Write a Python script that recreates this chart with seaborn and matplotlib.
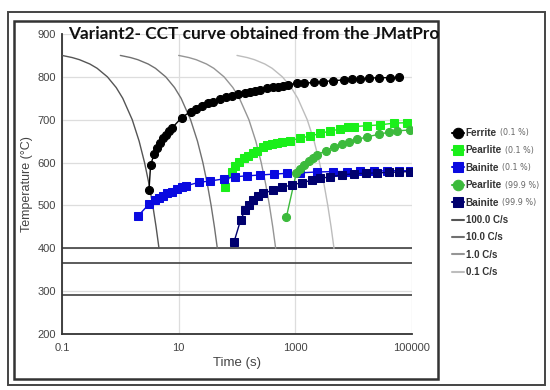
import matplotlib
matplotlib.use("Agg")
import matplotlib.pyplot as plt
import matplotlib.ticker as mticker
from matplotlib.patches import Rectangle
import pandas as pd
import seaborn as sns

# Transformation curves (time in s, temperature in C)
ferrite_t = [3.1, 3.3, 3.8, 4.3, 4.8, 5.3, 6.0, 6.8, 7.6, 11.3, 16, 20, 25, 32, 39, 51, 65, 82,
             105, 138, 170, 200, 250, 330, 420, 510, 620, 760, 1070, 1400, 2050, 3000, 4500,
             6800, 9400, 13000, 18000, 27000, 42000, 59000]
ferrite_T = [535, 594, 620, 633, 645, 657, 665, 673, 680, 705, 719, 726, 732, 738, 742, 748, 752, 755,
             759, 762, 765, 767, 769, 773, 776, 777, 779, 782, 785, 785, 787, 789, 791,
             793, 794, 795, 797, 798, 798, 799]

pearlite01_t = [62, 81, 93, 110, 132, 157, 186, 224, 277, 330, 400, 480, 590, 815, 1200, 1800,
                2700, 4000, 5900, 8100, 10000, 17000, 28700, 48600, 82000]
pearlite01_T = [542, 577, 592, 602, 610, 616, 622, 628, 636, 640, 643, 645, 647, 651, 657, 662,
                668, 674, 678, 682, 684, 686, 688, 692, 693]

bainite01_t = [2.0, 3.1, 3.9, 4.65, 5.4, 6.4, 7.6, 9.3, 11.3, 13.4, 22.6, 34.5, 60, 93, 147, 250,
               425, 716, 1200, 2330, 4500, 7750, 13000, 22000, 37000, 60000, 92000]
bainite01_T = [475, 503, 513, 518, 523, 528, 532, 538, 542, 546, 554, 557, 562, 567, 569, 571,
               573, 575, 576, 578, 579, 579, 580, 580, 581, 581, 581]

pearlite999_t = [700, 1035, 1200, 1420, 1690, 2000, 2340, 3390, 4520, 6300, 8300, 11500, 17000,
                 27000, 40000, 55600, 91000]
pearlite999_T = [472, 575, 584, 594, 604, 611, 618, 628, 636, 643, 648, 654, 660,
                 666, 671, 674, 676]

bainite999_t = [89, 116, 138, 163, 190, 233, 284, 412, 590, 875, 1290, 1930, 2690, 3970, 6300,
                10000, 16000, 25000, 40000, 60000, 92000]
bainite999_T = [415, 467, 489, 501, 513, 522, 528, 536, 542, 548, 553, 559, 563, 567, 571,
                574, 575, 576, 577, 578, 579]

# Cooling curves (same temperatures, times per rate)
cool_T = [850, 845, 840, 830, 820, 800, 775, 750, 700, 650, 600, 550, 500, 450, 400]
cool_100_t = [0.10, 0.15, 0.20, 0.30, 0.40, 0.60, 0.85, 1.1, 1.6, 2.1, 2.6, 3.1, 3.6, 4.1, 4.6]
cool_10_t = [1.0, 1.5, 2.0, 3.0, 4.0, 6.0, 8.5, 11, 16, 21, 26, 31, 36, 41, 46]
cool_1_t = [10, 15, 20, 30, 40, 60, 85, 110, 160, 210, 260, 310, 360, 410, 460]
cool_01_t = [100, 150, 200, 300, 400, 600, 850, 1100, 1600, 2100, 2600, 3100, 3600, 4100, 4600]

# Horizontal temperature lines
hlines_T = [400, 366, 292]

phase_names = ["Ferrite", "Pearlite", "Bainite", "Pearlite", "Bainite"]
phase_pcts = ["(0.1 %)", "(0.1 %)", "(0.1 %)", "(99.9 %)", "(99.9 %)"]
rate_names = ["100.0 C/s", "10.0 C/s", "1.0 C/s", "0.1 C/s"]

x_major = [0.1, 10, 1000, 100000]
x_major_labels = ["0.1", "10", "1000", "100000"]

sns.set_style("white")
plt.rcParams["font.family"] = ["Liberation Sans", "DejaVu Sans"]

W, H = 550, 390
fig = plt.figure(figsize=(W / 100, H / 100), dpi=100)
ax = fig.add_axes([62 / W, 1 - 334 / H, 350 / W, 300 / H])

# frames around the panel
fig.add_artist(Rectangle((8 / W, 1 - 385 / H), 537 / W, 373 / H, transform=fig.transFigure,
                         fill=False, lw=1.4, ec="#444444"))
fig.add_artist(Rectangle((14 / W, 1 - 379 / H), 424 / W, 358 / H, transform=fig.transFigure,
                         fill=False, lw=1.8, ec="#333333"))

for yv in hlines_T:
    ax.axhline(yv, color="#404040", lw=1.2, zorder=2)

cool_colors = ["#555555", "#707070", "#959595", "#bdbdbd"]
for t, name, c in zip([cool_100_t, cool_10_t, cool_1_t, cool_01_t], rate_names, cool_colors):
    sns.lineplot(x=t, y=cool_T, color=c, lw=1.0, ax=ax, label=name, estimator=None, sort=False,
                 zorder=3)

series = [
    (ferrite_t, ferrite_T, "#000000", "o"),
    (pearlite01_t, pearlite01_T, "#1aef1a", "s"),
    (bainite01_t, bainite01_T, "#0a0ae0", "s"),
    (pearlite999_t, pearlite999_T, "#3cba3c", "o"),
    (bainite999_t, bainite999_T, "#00006e", "s"),
]
for (t, T, c, m), name in zip(series, phase_names):
    df = pd.DataFrame({"t": t, "T": T})
    sns.lineplot(data=df, x="t", y="T", color=c, marker=m, markersize=5.8 if m == "o" else 5.3,
                 markeredgecolor=c, lw=1.0, ax=ax, label=name, estimator=None, zorder=4)

ax.set_xscale("log")
ax.set_xlim(0.1, 100000)
ax.set_ylim(200, 900)
ax.xaxis.set_major_locator(mticker.FixedLocator(x_major))
ax.xaxis.set_major_formatter(mticker.FixedFormatter(x_major_labels))
ax.xaxis.set_minor_locator(mticker.LogLocator(base=10, subs=range(1, 10), numticks=20))
ax.xaxis.set_minor_formatter(mticker.NullFormatter())
ax.yaxis.set_major_locator(mticker.MultipleLocator(100))
ax.yaxis.set_minor_locator(mticker.MultipleLocator(50))

ax.grid(True, which="major", color="#dddddd", lw=0.9, zorder=0)
ax.set_axisbelow(True)
for s in ["top", "right"]:
    ax.spines[s].set_visible(False)
for s in ["left", "bottom"]:
    ax.spines[s].set_color("#333333")
    ax.spines[s].set_linewidth(1.3)
ax.tick_params(which="major", direction="inout", length=5, width=1.0, color="#333333",
               labelsize=8, labelcolor="#444444", pad=2)
ax.tick_params(which="minor", direction="inout", length=4, width=1.0, color="#333333")
ax.tick_params(axis="x", which="major", pad=4)

ax.set_xlabel("Time (s)", fontsize=9.5, color="#444444", labelpad=3)
ax.set_ylabel("Temperature (\u00b0C)", fontsize=9, color="#444444", labelpad=3)

# legend at right, phases first then cooling rates
handles, labels = ax.get_legend_handles_labels()
if ax.get_legend():
    ax.get_legend().remove()
order = list(range(4, 9)) + list(range(0, 4))
leg = fig.legend([handles[i] for i in order], [labels[i] for i in order],
                 loc="upper left", bbox_to_anchor=(447 / W, 1 - 123 / H), frameon=False,
                 fontsize=7.2, handlelength=1.15, handletextpad=0.2, labelspacing=0.74,
                 borderpad=0, markerscale=1.3)
for i, txt in enumerate(leg.get_texts()):
    txt.set_color("#333333")
    txt.set_fontweight("bold")
    if i >= 5:
        txt.set_fontsize(7)
for lh in leg.get_lines():
    lh.set_linewidth(1.5)

# title, scaled to the width it takes in the picture
title = fig.text(68 / W, 1 - 34 / H, "Variant2- CCT curve obtained from the JMatPro",
                 fontsize=12, fontweight="bold", family=["Lato", "DejaVu Sans"],
                 va="center", ha="left", color="#111111")
fig.canvas.draw()
renderer = fig.canvas.get_renderer()
tw = title.get_window_extent(renderer).width
title.set_fontsize(12 * 369 / tw)

for txt, pct in zip(leg.get_texts()[:5], phase_pcts):
    bb = txt.get_window_extent(renderer)
    fig.text((bb.x1 + 3) / W, (bb.y0 + bb.y1) / 2 / H, pct, fontsize=5.8, color="#666666",
             va="center", ha="left", family=["DejaVu Sans"])

fig.savefig("out.png", dpi=100)
